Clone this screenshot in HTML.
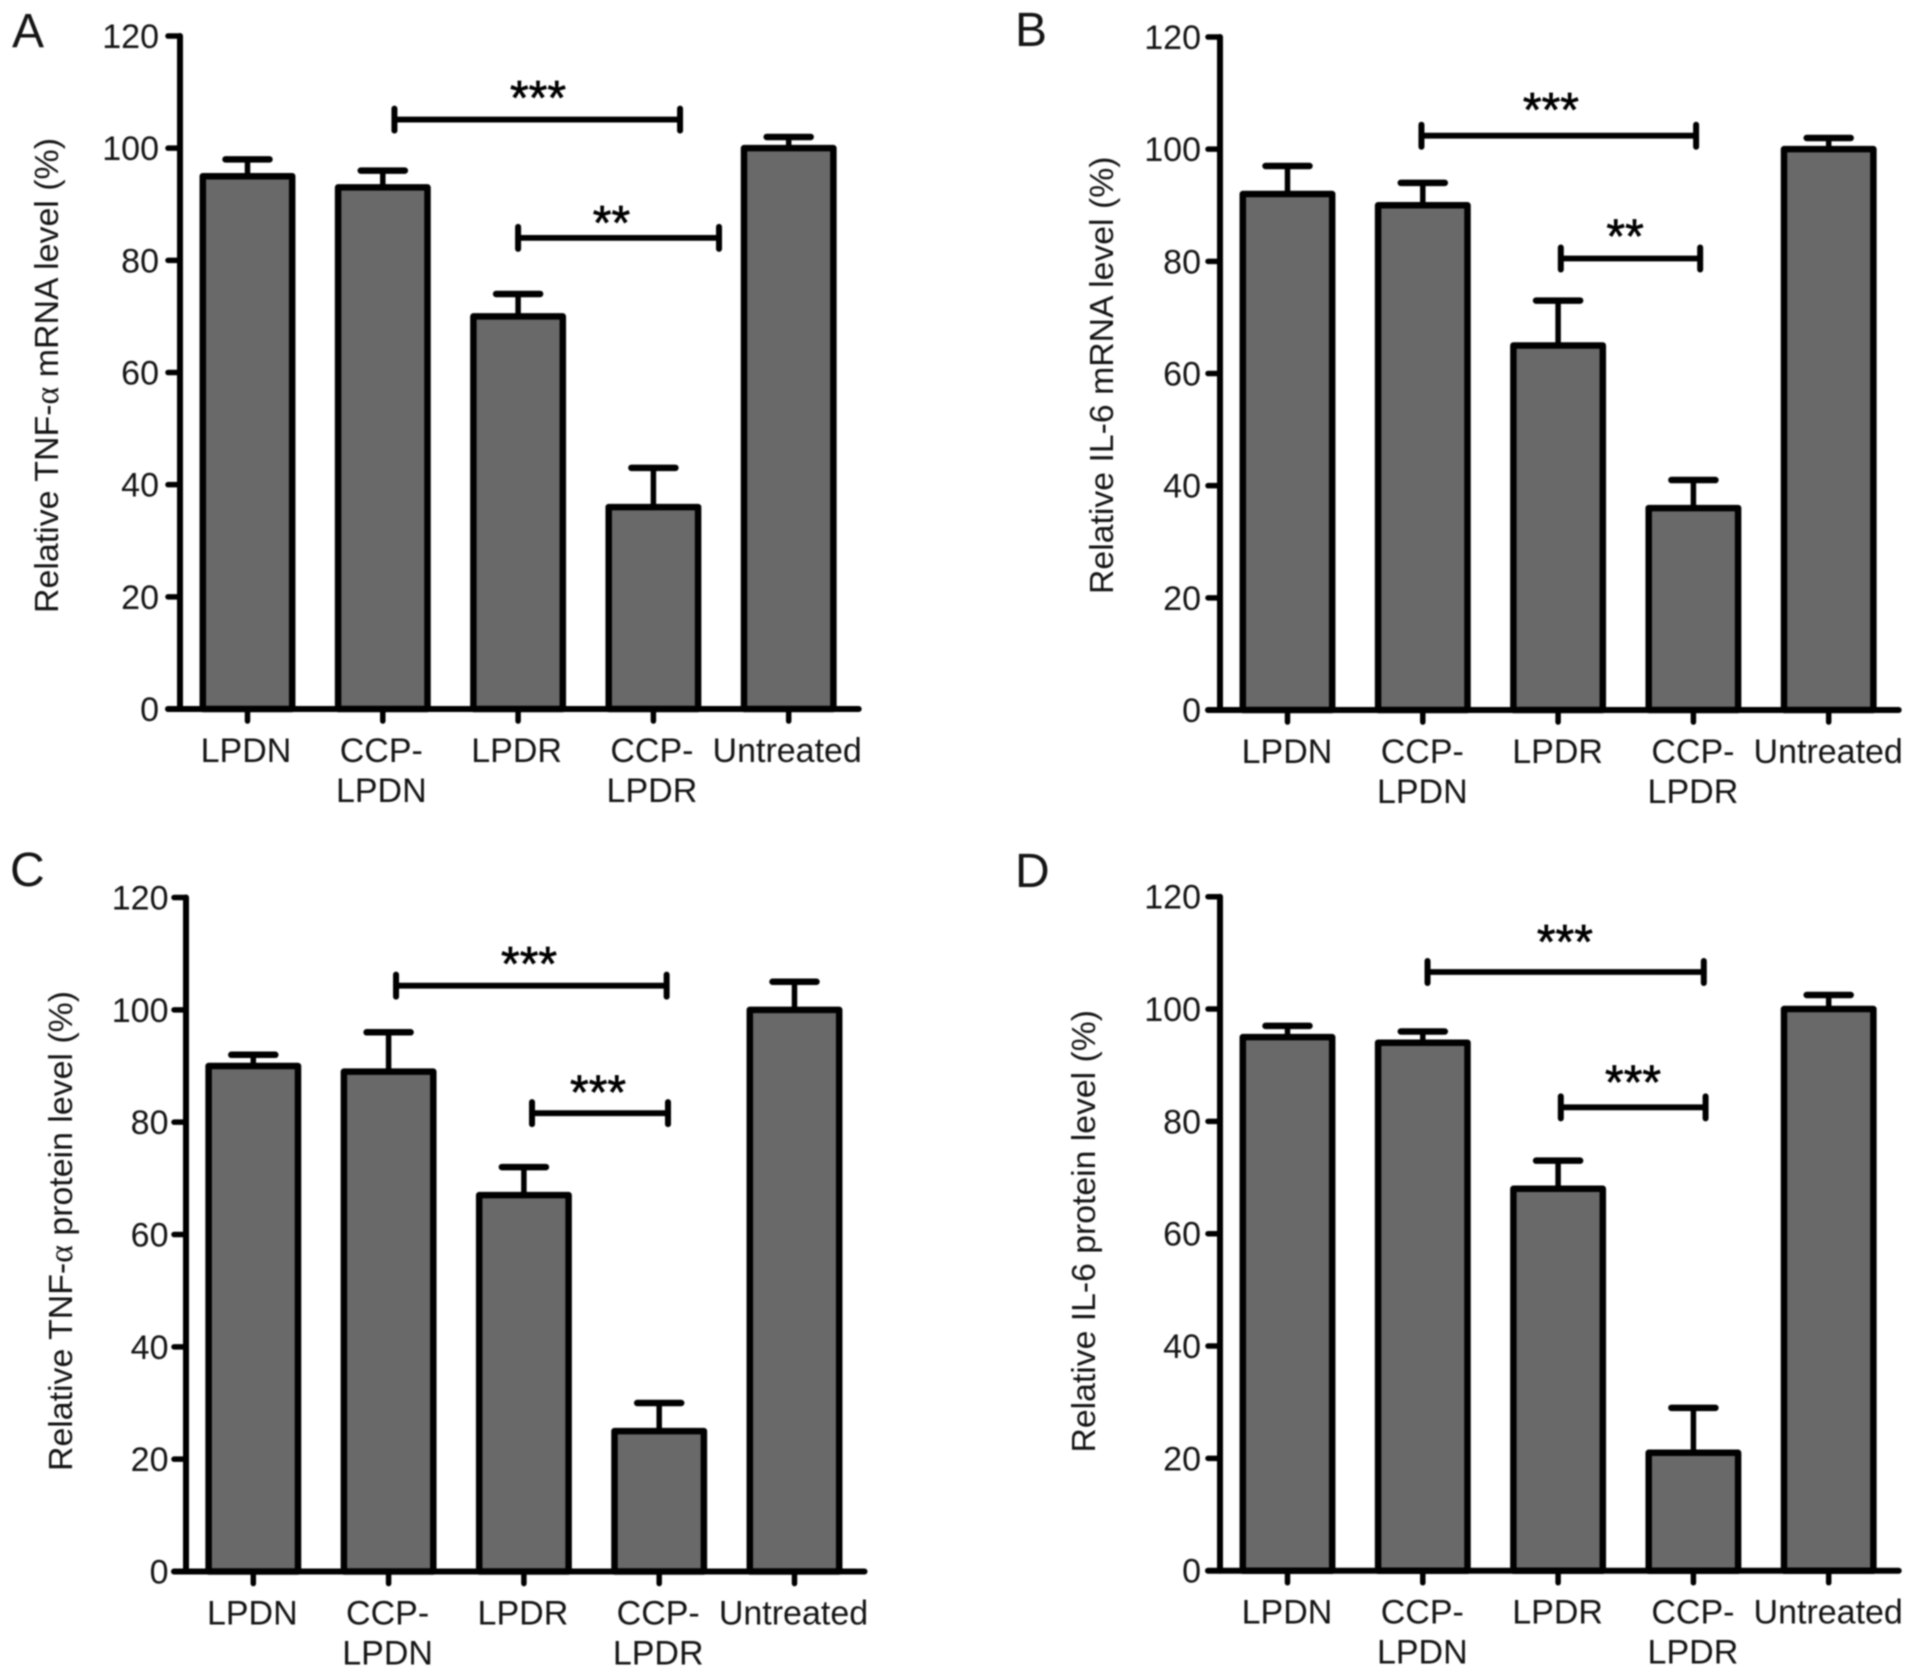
<!DOCTYPE html>
<html lang="en">
<head>
<meta charset="utf-8">
<title>Relative mRNA and protein levels</title>
<style>
  html, body { margin: 0; padding: 0; background: #ffffff; }
  body { width: 1913px; height: 1677px; overflow: hidden; }
  svg { display: block; filter: blur(0.7px); }
  text { font-family: "Liberation Sans", sans-serif; fill: #151515; }
</style>
</head>
<body>
<svg id="figure" xmlns="http://www.w3.org/2000/svg" width="1913" height="1677" viewBox="0 0 1913 1677"></svg>
<script>
// Shared categories and axis ticks
const categories = [["LPDN"], ["CCP-", "LPDN"], ["LPDR"], ["CCP-", "LPDR"], ["Untreated"]];
const tickLabels = [0, 20, 40, 60, 80, 100, 120];

// Panel A: TNF-alpha mRNA
const tnfMrnaValues = [95, 93, 70, 36, 100];
const tnfMrnaErrorTops = [98, 96, 74, 43, 102];
const tnfMrnaBrackets = [
  { from: 1.086, to: 3.197, level: 105.1, label: "***", labelAt: 2.147, labelLevel: 110.2 },
  { from: 2.0, to: 3.485, level: 84.0, label: "**", labelAt: 2.69, labelLevel: 87.9 }
];

// Panel B: IL-6 mRNA
const il6MrnaValues = [92, 90, 65, 36, 100];
const il6MrnaErrorTops = [97, 94, 73, 41, 102];
const il6MrnaBrackets = [
  { from: 0.99, to: 3.02, level: 102.4, label: "***", labelAt: 1.947, labelLevel: 108.2 },
  { from: 2.02, to: 3.05, level: 80.5, label: "**", labelAt: 2.495, labelLevel: 85.7 }
];

// Panel C: TNF-alpha protein
const tnfProteinValues = [90, 89, 67, 25, 100];
const tnfProteinErrorTops = [92, 96, 72, 30, 105];
const tnfProteinBrackets = [
  { from: 1.055, to: 3.055, level: 104.3, label: "***", labelAt: 2.038, labelLevel: 109.4 },
  { from: 2.06, to: 3.065, level: 81.6, label: "***", labelAt: 2.548, labelLevel: 86.5 }
];

// Panel D: IL-6 protein
const il6ProteinValues = [95, 94, 68, 21, 100];
const il6ProteinErrorTops = [97, 96, 73, 29, 102.5];
const il6ProteinBrackets = [
  { from: 1.035, to: 3.077, level: 106.6, label: "***", labelAt: 2.05, labelLevel: 113.2 },
  { from: 2.02, to: 3.09, level: 82.5, label: "***", labelAt: 2.554, labelLevel: 88.2 }
];

const SVG_NS = "http://www.w3.org/2000/svg";
const AXIS_MAX = 120;
const BAR_WIDTH = 89.4;
const BAR_SPACING = 135.3;

const panels = [
  { key: "a", letter: "A", letterX: 12, letterY: 47, top: 36, bottom: 709, axisX: 180, firstBar: 247.5, tickLabelX: 159, labelShift: -1.5,
    title: "Relative TNF-", titleRest: " mRNA level (%)", titleX: 58, titleTop: 138, titleBottom: 613,
    values: tnfMrnaValues, errorTops: tnfMrnaErrorTops, brackets: tnfMrnaBrackets },
  { key: "b", letter: "B", letterX: 1015, letterY: 46, top: 37, bottom: 710, axisX: 1220, firstBar: 1287.5, tickLabelX: 1201, labelShift: -0.5,
    title: "Relative IL-6 mRNA level (%)", titleRest: "", titleX: 1113, titleTop: 156.5, titleBottom: 594,
    values: il6MrnaValues, errorTops: il6MrnaErrorTops, brackets: il6MrnaBrackets },
  { key: "c", letter: "C", letterX: 10, letterY: 886, top: 897.5, bottom: 1571.5, axisX: 186, firstBar: 253.3, tickLabelX: 168.5, labelShift: -1,
    title: "Relative TNF-", titleRest: " protein level (%)", titleX: 72, titleTop: 991, titleBottom: 1471,
    values: tnfProteinValues, errorTops: tnfProteinErrorTops, brackets: tnfProteinBrackets },
  { key: "d", letter: "D", letterX: 1015, letterY: 887, top: 896.7, bottom: 1570.7, axisX: 1220, firstBar: 1287.5, tickLabelX: 1201, labelShift: -0.5,
    title: "Relative IL-6 protein level (%)", titleRest: "", titleX: 1095, titleTop: 1010, titleBottom: 1452.5,
    values: il6ProteinValues, errorTops: il6ProteinErrorTops, brackets: il6ProteinBrackets }
];

const figure = document.getElementById("figure");

function make(tag, parent, attrs) {
  const el = document.createElementNS(SVG_NS, tag);
  for (const k in attrs) el.setAttribute(k, attrs[k]);
  parent.appendChild(el);
  return el;
}

function seg(parent, x1, y1, x2, y2, width) {
  return make("line", parent, { x1: x1, y1: y1, x2: x2, y2: y2, stroke: "#000", "stroke-width": width, "stroke-linecap": "round" });
}

panels.forEach(function (p) {
  const yScale = function (v) { return p.bottom - (v / AXIS_MAX) * (p.bottom - p.top); };
  const xScale = function (i) { return p.firstBar + i * BAR_SPACING; };

  const g = make("g", figure, {});
  
  

  const letter = make("text", g, { x: p.letterX, y: p.letterY, "font-size": 48 });
  letter.textContent = p.letter;
  
  

  // y-axis title
  const titleMid = (p.titleTop + p.titleBottom) / 2;
  const title = make("text", g, {
    x: 0, y: 0, "font-size": 33.5, "text-anchor": "middle",
    transform: "translate(" + p.titleX + "," + titleMid + ") rotate(-90)",
    textLength: p.titleBottom - p.titleTop, lengthAdjust: "spacingAndGlyphs"
  });
  
  
  title.appendChild(document.createTextNode(p.title));
  if (p.titleRest) {
    const alpha = make("tspan", title, { style: 'font-family:"Liberation Serif",serif' });
    alpha.textContent = "\u03B1";
    title.appendChild(document.createTextNode(p.titleRest));
  }

  // bars
  p.values.forEach(function (v, i) {
    const cx = xScale(i);
    const errTop = yScale(p.errorTops[i]);
    const stem = seg(g, cx, yScale(v), cx, errTop, 5.5);
    
    
    const cap = seg(g, cx - 22, errTop, cx + 22, errTop, 6.5);
    
    
    const bar = make("rect", g, {
      x: cx - BAR_WIDTH / 2, y: yScale(v), width: BAR_WIDTH, height: p.bottom - yScale(v),
      fill: "#696969", stroke: "#000", "stroke-width": 6.5, "stroke-linejoin": "round"
    });
    
    
  });

  // axes
  const yAxis = seg(g, p.axisX, p.top, p.axisX, p.bottom, 6);
  
  
  const xAxis = seg(g, p.axisX - 12, p.bottom, xScale(4) + 70, p.bottom, 6);
  
  

  // y ticks
  tickLabels.forEach(function (t) {
    const y = yScale(t);
    const tick = seg(g, p.axisX - 12, y, p.axisX, y, 5.5);
    
    
    const label = make("text", g, { x: p.tickLabelX, y: y + 12, "font-size": 34, "text-anchor": "end" });
    label.textContent = String(t);
    
    
  });

  // x ticks and labels
  categories.forEach(function (lines, i) {
    const cx = xScale(i);
    const tick = seg(g, cx, p.bottom, cx, p.bottom + 12, 5.5);
    
    
    lines.forEach(function (line, j) {
      const label = make("text", g, {
        x: cx + p.labelShift, y: p.bottom + 53 + j * 40, "font-size": 34, "text-anchor": "middle"
      });
      label.textContent = line;
      
      
    });
  });

  // significance brackets
  p.brackets.forEach(function (b, i) {
    const x1 = xScale(b.from), x2 = xScale(b.to), y = yScale(b.level);
    const span = seg(g, x1, y, x2, y, 5.8);
    
    
    const endA = seg(g, x1, y - 11, x1, y + 11, 6);
    
    
    const endB = seg(g, x2, y - 11, x2, y + 11, 6);
    
    
    const stars = make("text", g, {
      x: xScale(b.labelAt), y: yScale(b.labelLevel) + 23, "font-size": 48, "text-anchor": "middle",
      style: "fill:#000;stroke:#000;stroke-width:0.7"
    });
    stars.textContent = b.label;
    
    
  });
});
</script>
</body>
</html>
